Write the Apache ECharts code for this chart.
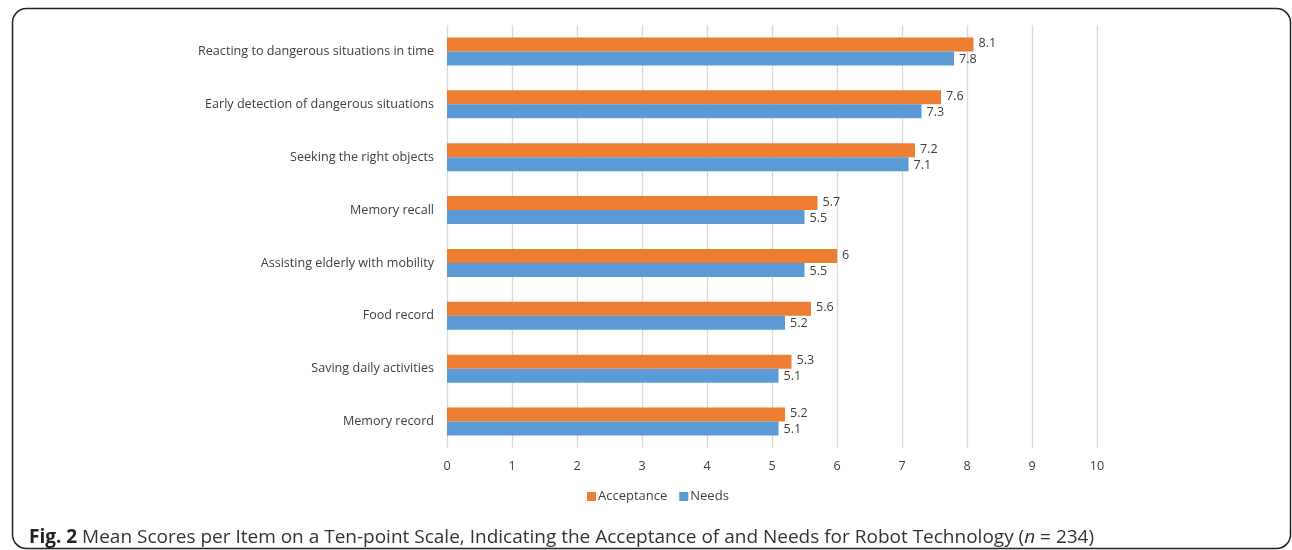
<!DOCTYPE html>
<html><head><meta charset="utf-8">
<script src="https://cdn.jsdelivr.net/npm/echarts@6/dist/echarts.min.js"></script>
<style>html,body{margin:0;padding:0;background:#fff}#c{width:1292px;height:550px}</style>
</head><body><div id="c"></div>
<script>
const categories = ["Reacting to dangerous situations in time","Early detection of dangerous situations","Seeking the right objects","Memory recall","Assisting elderly with mobility","Food record","Saving daily activities","Memory record"];
const acceptance = [8.1, 7.6, 7.2, 5.7, 6, 5.6, 5.3, 5.2];
const needs = [7.8, 7.3, 7.1, 5.5, 5.5, 5.2, 5.1, 5.1];
const xTicks = [0,1,2,3,4,5,6,7,8,9,10];
const seriesNames = ["Acceptance","Needs"];

const chart = echarts.init(document.getElementById('c'), null, {renderer:'canvas'});
const font = "'Open Sans', 'Noto Sans', sans-serif";
chart.setOption({
  animation:false,
  textStyle:{fontFamily:font},
  graphic:[{type:'rect', shape:{x:12.5,y:8.5,width:1278,height:540,r:14}, style:{fill:'none',stroke:'#222',lineWidth:1.5}, z:-1}],
  title:{
    left:24, top:523,
    text:'{b|Fig. 2} Mean Scores per Item on a Ten-point Scale, Indicating the Acceptance of and Needs for Robot Technology ({i|n} = 234)',
    textStyle:{fontFamily:font, fontSize:19, fontWeight:'normal', color:'#333',
      rich:{b:{fontFamily:font,fontSize:19,fontWeight:'bold',color:'#222'}, i:{fontFamily:font,fontSize:19,fontStyle:'italic',color:'#333'}}}
  },
  legend:{
    data:seriesNames, left:587, top:490, itemWidth:9, itemHeight:9, itemGap:12, icon:'rect',
    textStyle:{fontFamily:font,fontSize:13,color:'#404040', padding:[0,0,0,-3]}, padding:[0,0,0,0]
  },
  grid:{left:447, right:195, top:25, bottom:102, containLabel:false},
  xAxis:{type:'value', min:xTicks[0], max:xTicks[xTicks.length-1], interval:1,
    axisLine:{show:false}, axisTick:{show:false},
    axisLabel:{color:'#404040', fontSize:12.6, margin:12, fontFamily:font},
    splitLine:{lineStyle:{color:'#d9d9d9', width:1.3}}},
  yAxis:{type:'category', data:categories, inverse:true,
    axisLine:{show:false}, axisTick:{show:false},
    axisLabel:{color:'#404040', fontSize:12.6, margin:13, fontFamily:font}},
  series:[
    {name:seriesNames[0], type:'bar', data:acceptance, barWidth:14, barGap:'0%',
     itemStyle:{color:'#ED7D31'},
     label:{show:true, position:'right', distance:5, color:'#404040', fontSize:12.6, fontFamily:font, offset:[0,-1]}},
    {name:seriesNames[1], type:'bar', data:needs, barWidth:14, barGap:'0%',
     itemStyle:{color:'#5B9BD5'},
     label:{show:true, position:'right', distance:5, color:'#404040', fontSize:12.6, fontFamily:font, offset:[0,1]}}
  ]
});
</script></body></html>
